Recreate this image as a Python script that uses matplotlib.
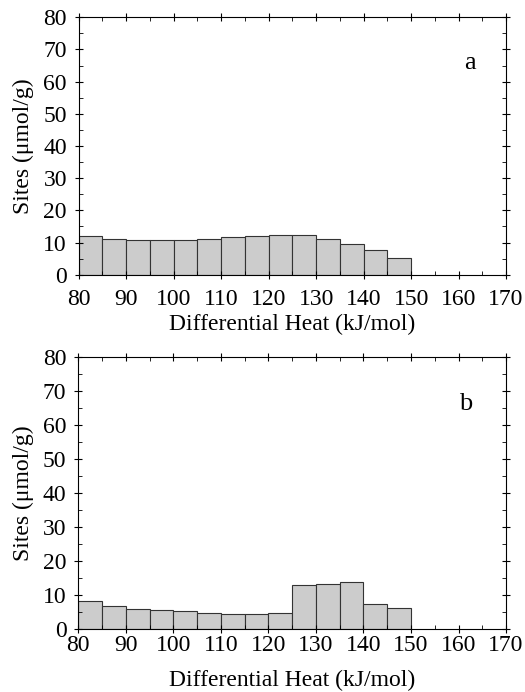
import numpy as np
import matplotlib.pyplot as plt
from matplotlib.ticker import MultipleLocator

# bin left edges (kJ/mol), bins are 5 kJ/mol wide
heat_bins = [80, 85, 90, 95, 100, 105, 110, 115, 120, 125, 130, 135, 140, 145]
sites_a = [11.9, 11.1, 10.8, 10.8, 10.8, 11.2, 11.7, 12.1, 12.4, 12.2, 11.0, 9.7, 7.8, 5.1]
sites_b = [8.1, 6.8, 6.0, 5.6, 5.3, 4.8, 4.5, 4.5, 4.6, 12.9, 13.3, 13.7, 7.5, 6.1]
panel_labels = ['a', 'b']

plt.rcParams['font.family'] = ['Liberation Serif', 'DejaVu Serif']
plt.rcParams['font.size'] = 17

fig = plt.figure(figsize=(5.25, 6.92), dpi=100)
ax_a = fig.add_axes([0.150, 0.603, 0.814, 0.372])
ax_b = fig.add_axes([0.149, 0.091, 0.815, 0.393])

# (axis, values, letter, letter pos, x tick pad, xlabel pad)
panels = [(ax_a, sites_a, panel_labels[0], (162.4, 65.7), 7.3, 2.5),
          (ax_b, sites_b, panel_labels[1], (161.5, 66.2), 1.5, 9.5)]

for ax, vals, lab, lpos, xpad, lpad in panels:
    ax.bar(heat_bins, vals, width=5, align='edge', color='#cccccc',
           edgecolor='#333333', linewidth=0.8)
    ax.set_xlim(80, 170)
    ax.set_ylim(0, 80)
    ax.xaxis.set_major_locator(MultipleLocator(10))
    ax.xaxis.set_minor_locator(MultipleLocator(5))
    ax.yaxis.set_major_locator(MultipleLocator(10))
    ax.yaxis.set_minor_locator(MultipleLocator(5))
    ax.tick_params(which='both', top=True, right=True, labelsize=17)
    ax.tick_params(which='major', direction='inout', length=6)
    ax.tick_params(which='minor', direction='in', length=3)
    ax.tick_params(axis='x', pad=xpad)
    ax.tick_params(axis='y', pad=5.5)
    ax.set_xlabel('Differential Heat (kJ/mol)', fontsize=17, labelpad=lpad)
    ax.set_ylabel('Sites (\u03bcmol/g)', fontsize=17, labelpad=6.5)
    ax.text(lpos[0], lpos[1], lab, fontsize=19, ha='center', va='center')

fig.savefig('out.png', dpi=100)
